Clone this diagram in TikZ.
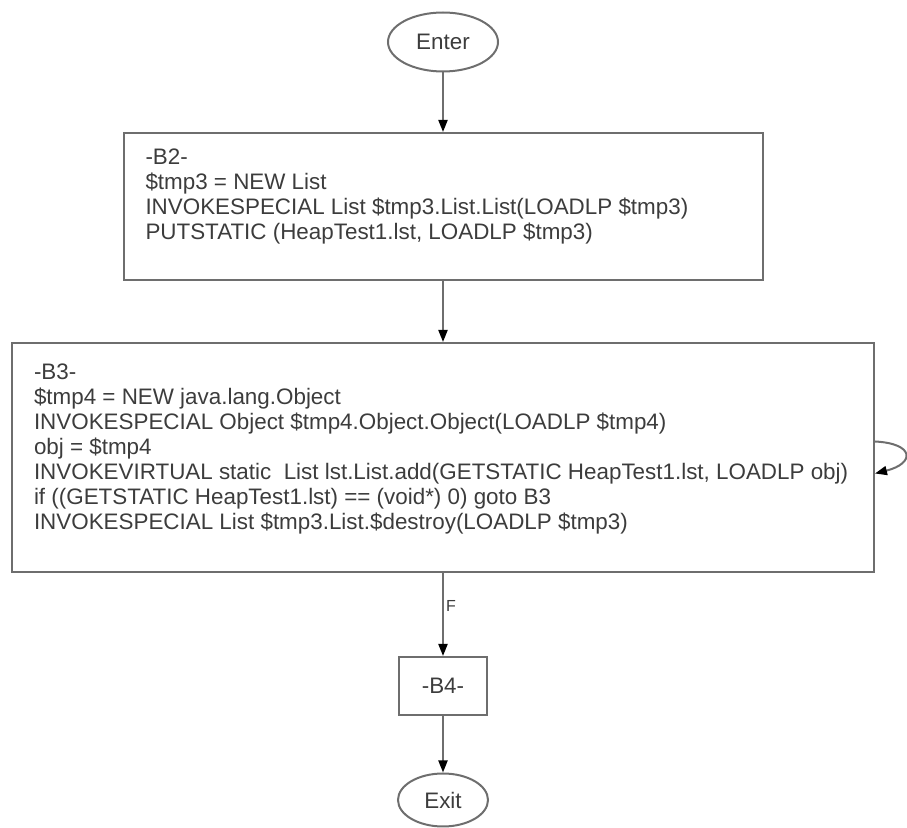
\documentclass[tikz,border=0pt]{standalone}
\usepackage{fontspec}
\setmainfont{Liberation Sans}
\usepackage{xcolor}
\usetikzlibrary{shapes.geometric,arrows.meta,positioning}
\definecolor{linegray}{RGB}{110,110,110}
\definecolor{textgray}{RGB}{60,60,60}

\begin{document}
\begin{tikzpicture}[x=0.5pt,y=-0.5pt,
    every node/.style={text=textgray, font=\fontsize{11.2}{12.5}\selectfont},
    term/.style={draw=linegray, line width=1pt, ellipse, inner sep=0pt},
    blk/.style={draw=linegray, line width=1pt, rectangle, inner xsep=11pt},
    arr/.style={draw=linegray, line width=1pt, -{Triangle[length=6pt,width=4.5pt,color=black]}}]
    \useasboundingbox (0,0) rectangle (907,828);

    \node[term, minimum width=55pt, minimum height=29.5pt] (enter) at (443,42) {Enter};
    \node[blk, inner ysep=8pt] (b2) at (443,206.5) {\begin{minipage}[t][57.5pt][t]{297.5pt}
        -B2-\\
        \$tmp3 = NEW List\\
        INVOKESPECIAL List \$tmp3.List.List(LOADLP \$tmp3)\\
        PUTSTATIC (HeapTest1.lst, LOADLP \$tmp3)
    \end{minipage}};
    \node[blk, inner ysep=10.5pt] (b3) at (443,457.5) {\begin{minipage}[t][93.5pt][t]{409pt}
        -B3-\\
        \$tmp4 = NEW java.lang.Object\\
        INVOKESPECIAL Object \$tmp4.Object.Object(LOADLP \$tmp4)\\
        obj = \$tmp4\\
        INVOKEVIRTUAL static\ \ List lst.List.add(GETSTATIC HeapTest1.lst, LOADLP obj)\\
        if ((GETSTATIC HeapTest1.lst) == (void*) 0) goto B3\\
        INVOKESPECIAL List \$tmp3.List.\$destroy(LOADLP \$tmp3)
    \end{minipage}};
    \node[blk, minimum width=44pt, minimum height=29pt, inner sep=0pt] (b4) at (443,686) {-B4-};
    \node[term, minimum width=45pt, minimum height=26.5pt] (exit) at (443,800) {Exit};

    \draw[arr] (enter) -- (b2);
    \draw[arr] (b2) -- (b3);
    \draw[arr] (b3) -- node[pos=0.4, right, inner sep=1pt, font=\fontsize{8}{9}\selectfont] {F} (b4);
    \draw[arr] (b4) -- (exit);
    \draw[arr] ([yshift=8pt]b3.east) .. controls +(20pt,-1pt) and +(20pt,5pt) .. ([yshift=-8pt]b3.east);
\end{tikzpicture}
\end{document}
